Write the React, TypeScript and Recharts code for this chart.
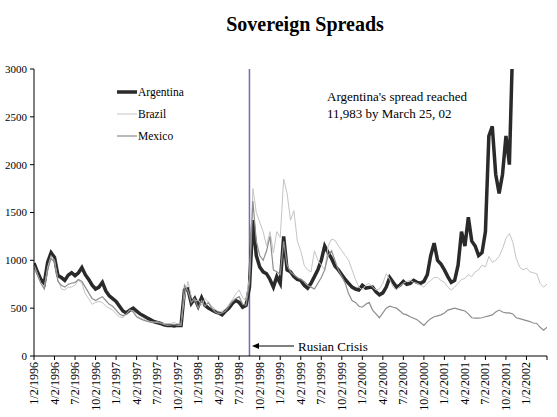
import { LineChart, Line, XAxis, YAxis, ReferenceLine } from 'recharts';

const FONT = '"Liberation Serif", "Times New Roman", serif';

// half-month steps from 1/2/1996 (index / 2 = months since start)
const argentina = [
  970, 880, 800, 760, 980, 1080, 1030, 840, 820, 790, 845, 870,
  840, 870, 925, 850, 800, 740, 700, 720, 770, 680, 630, 600,
  570, 520, 470, 450, 480, 500, 470, 440, 420, 400, 380, 360,
  350, 340, 325, 320, 320, 315, 320, 320, 690, 700, 550, 600,
  520, 610, 530, 500, 480, 460, 450, 430, 470, 500, 550, 580,
  560, 510, 530, 720, 1420, 1050, 930, 880, 860, 800, 720, 830,
  760, 1250, 900, 880, 830, 800, 790, 740, 710, 760, 830, 900,
  1000, 1150, 1080, 1020, 940, 900, 850, 800, 760, 720, 700, 690,
  740, 710, 715, 720, 670, 640, 660, 720, 820, 770, 720, 740,
  780, 750, 760, 790, 770, 760, 780, 850, 1050, 1180, 1000, 960,
  900, 830, 770, 790, 950, 1300, 1150, 1450, 1200, 1150, 1050, 1080,
  1300, 2300, 2400, 1900, 1700, 1900, 2300, 2000, 3300, null, null, null,
  null, null, null, null, null, null, null,
];

const brazil = [
  950, 860, 760, 720, 930, 1050, 1000, 800, 700, 690, 720, 720,
  740, 790, 760, 650, 600, 540, 560, 570, 560, 520, 500, 480,
  440, 410, 400, 440, 480, 470, 420, 400, 385, 370, 360, 355,
  350, 345, 340, 335, 340, 350, 335, 335, 620, 780, 620, 570,
  590, 530, 600, 560, 520, 490, 460, 470, 490, 540, 590, 650,
  690, 610, 580, 820, 1750, 1500, 1400, 1300, 1150, 1300, 1080, 1300,
  1240, 1850, 1700, 1420, 1520, 1200, 1100, 950, 900, 880, 1100, 1000,
  950, 900, 1150, 1220, 1210, 1150, 1100, 1050, 1000, 900, 800, 720,
  690, 740, 760, 720, 690, 700, 760, 860, 800, 720, 690, 730,
  760, 780, 790, 770, 760, 740, 720, 760, 790, 820, 820, 790,
  770, 720, 690, 720, 760, 800, 810, 850, 830, 880, 900, 950,
  930, 1040, 980, 1000, 1040, 1120, 1230, 1280, 1190, 1020, 930, 900,
  920, 880, 870, 860, 760, 720, 750,
];

const mexico = [
  930, 850, 760, 700, 900, 1020, 980, 780, 740, 720, 750, 760,
  770, 800, 780, 720, 660, 600, 580, 600, 620, 580, 540, 520,
  480, 440, 420, 440, 480, 460, 410, 390, 375, 365, 355, 350,
  360, 345, 330, 320, 325, 330, 320, 320, 740, 680, 560, 600,
  500, 580, 520, 560, 500, 460, 440, 450, 470, 520, 570, 600,
  620, 540, 530, 760, 1620, 1200, 1050, 1000, 1100, 1250, 900, 880,
  850, 1200, 950, 880, 850, 820, 800, 780, 740, 720, 700, 760,
  820, 900, 1050, 1100, 1000, 900, 830, 760, 650, 580, 560, 520,
  510, 540, 560, 480, 440, 400, 450, 500, 520, 510, 500, 470,
  440, 430, 410, 395, 380, 350, 320, 360, 390, 410, 420, 430,
  450, 480, 490, 500, 490, 480, 470, 440, 400, 395, 395, 400,
  410, 420, 430, 460, 480, 460, 450, 450, 440, 400, 390, 380,
  370, 360, 345, 340, 300, 270, 300,
];

const quarterTicks = [0, 3, 6, 9, 12, 15, 18, 21, 24, 27, 30, 33, 36, 39, 42, 45, 48, 51, 54, 57, 60, 63, 66, 69, 72, 75];
const quarterLabels = [
  '1/2/1996', '4/2/1996', '7/2/1996', '10/2/1996',
  '1/2/1997', '4/2/1997', '7/2/1997', '10/2/1997',
  '1/2/1998', '4/2/1998', '7/2/1998', '10/2/1998',
  '1/2/1999', '4/2/1999', '7/2/1999', '10/2/1999',
  '1/2/2000', '4/2/2000', '7/2/2000', '10/2/2000',
  '1/2/2001', '4/2/2001', '7/2/2001', '10/2/2001',
  '1/2/2002', '',
];
const yTicks = [0, 500, 1000, 1500, 2000, 2500, 3000];
const russianCrisis = 31.5;

const series = [
  { key: 'argentina', name: 'Argentina', color: '#2a2a2a', width: 3.5 },
  { key: 'brazil', name: 'Brazil', color: '#c4c4c4', width: 1 },
  { key: 'mexico', name: 'Mexico', color: '#8e8e8e', width: 1.2 },
];

const rows = argentina.map((_, i) => ({
  m: i / 2,
  argentina: argentina[i],
  brazil: brazil[i],
  mexico: mexico[i],
}));

function XTick({ x, y, payload }: any) {
  const label = quarterLabels[Math.round(payload.value / 3)] || '';
  return (
    <g transform={`translate(${x},${y})`}>
      <text
        transform="rotate(-90)"
        x={0}
        y={4}
        textAnchor="end"
        fontSize={12}
        fontFamily={FONT}
        fill="#000"
      >
        {label}
      </text>
    </g>
  );
}

export default function App() {
  return (
    <div style={{ position: 'absolute', left: 0, top: 0, width: 557, height: 417, background: '#fff' }}>
      <LineChart
        width={557}
        height={417}
        data={rows}
        margin={{ top: 69, right: 10, left: 0, bottom: 0 }}
      >
        <XAxis
          dataKey="m"
          type="number"
          domain={[0, 75]}
          ticks={quarterTicks}
          interval={0}
          allowDataOverflow
          height={61}
          tickSize={4}
          tickMargin={2}
          stroke="#000"
          tick={<XTick />}
        />
        <YAxis
          type="number"
          domain={[0, 3000]}
          ticks={yTicks}
          allowDataOverflow
          width={34}
          tickSize={4}
          tickMargin={3}
          stroke="#000"
          tick={{ fontSize: 11, fontFamily: FONT, fill: '#000' }}
        />
        <ReferenceLine x={russianCrisis} stroke="#6e6eb4" strokeWidth={1.5} />
        {series.map((s) => (
          <Line
            key={s.key}
            dataKey={s.key}
            name={s.name}
            type="linear"
            stroke={s.color}
            strokeWidth={s.width}
            dot={false}
            activeDot={false}
            isAnimationActive={false}
          />
        ))}
      </LineChart>
      <svg
        width={557}
        height={417}
        style={{ position: 'absolute', left: 0, top: 0, pointerEvents: 'none' }}
      >
        <text x={305} y={31} textAnchor="middle" fontSize={20} fontWeight="bold" fontFamily={FONT} fill="#000">
          Sovereign Spreads
        </text>
        {series.map((s, i) => (
          <g key={s.key}>
            <line x1={117} x2={137} y1={92 + i * 22} y2={92 + i * 22} stroke={s.color} strokeWidth={s.width} />
            <text x={138} y={96 + i * 22} fontSize={11.5} fontFamily={FONT} fill="#000">
              {s.name}
            </text>
          </g>
        ))}
        <text x={327} y={101} fontSize={13} fontFamily={FONT} fill="#000">
          Argentina's spread reached
        </text>
        <text x={327} y={118} fontSize={13} fontFamily={FONT} fill="#000">
          11,983 by March 25, 02
        </text>
        <line x1={258} x2={294} y1={346} y2={346} stroke="#000" strokeWidth={1} />
        <polygon points="252,346 259,343 259,349" fill="#000" />
        <text x={298} y={351} fontSize={13} fontFamily={FONT} fill="#000">
          Rusian Crisis
        </text>
      </svg>
    </div>
  );
}
